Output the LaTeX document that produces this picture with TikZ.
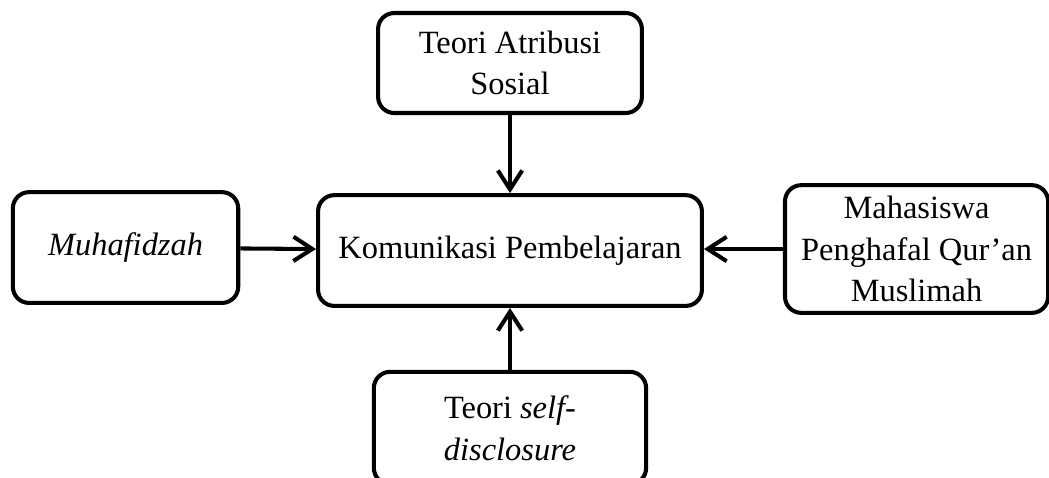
\documentclass[tikz,border=0pt]{standalone}
\usepackage{fontspec}
\setmainfont{Liberation Serif}
\usetikzlibrary{positioning, arrows.meta}

\begin{document}
\begin{tikzpicture}[font=\fontsize{12}{15.4}\selectfont,
    kotak/.style={draw, line width=1.5pt, rounded corners=6pt, align=center, inner sep=2pt},
    panah/.style={-{Straight Barb[length=7pt,width=9pt]}, line width=1.5pt}]
    \useasboundingbox (0,0) rectangle (13.637,-6.201);
    % konsep utama
    \node[kotak, minimum width=4.99cm, minimum height=1.44cm]
      (komunikasi) at (6.63,-3.257) {Komunikasi Pembelajaran};
    % teori dan subjek
    \node[kotak, minimum width=3.43cm, minimum height=1.30cm]
      (atribusi) at (6.63,-0.819) {Teori Atribusi\\Sosial};
    \node[kotak, minimum width=2.93cm, minimum height=1.44cm]
      (muhafidzah) at (1.632,-3.218) {\textit{Muhafidzah}};
    \node[kotak, minimum width=3.42cm, minimum height=1.66cm]
      (mahasiswa) at (11.915,-3.237) {Mahasiswa\\Penghafal Qur’an\\Muslimah};
    \node[kotak, minimum width=3.54cm, minimum height=1.46cm]
      (disclosure) at (6.63,-5.564) {Teori \textit{self-}\\\textit{disclosure}};
    % panah
    \draw[panah] (atribusi) -- (komunikasi);
    \draw[panah] (muhafidzah) -- (komunikasi);
    \draw[panah] (mahasiswa.west) -- (komunikasi.east |- mahasiswa.west);
    \draw[panah] (disclosure) -- (komunikasi);
  \end{tikzpicture}
\end{document}
